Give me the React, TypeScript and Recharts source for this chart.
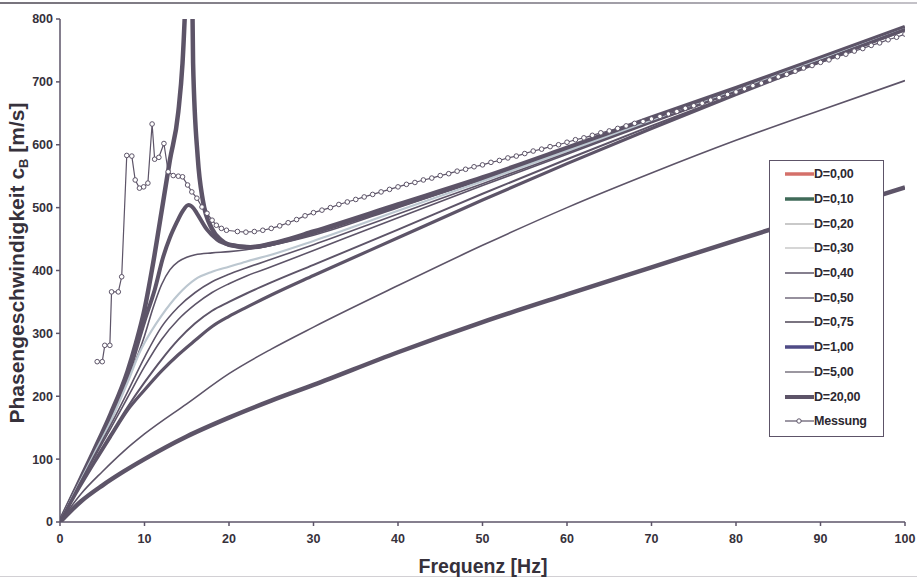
import { LineChart, Line, XAxis, YAxis, Legend } from 'recharts'

type Pt = [number, number | null]

// Frequenz [Hz] / Phasengeschwindigkeit [m/s] je Dämpfungsgrad D
const D000: Pt[] = [[0, 0], [2, 56], [4, 113], [6, 172], [8, 240], [9, 285], [10, 338], [11, 410], [12, 492], [13, 575], [14, 652], [14.5, 730], [15, 880], [15.3, null], [15.6, 900], [15.75, 730], [16.3, 580], [16.9, 512], [18, 466], [19, 449], [20, 441], [22.5, 437], [26, 446], [30, 462], [40, 505], [50, 548], [60, 595], [70, 643], [80, 690], [90, 738], [100, 787]]
const D010: Pt[] = [[0, 0], [2, 55], [4, 110], [6, 166], [8, 232], [10, 320], [11.2, 369], [12.2, 421], [13, 452], [13.8, 476], [14.5, 494], [15.2, 504], [15.8, 499], [16.2, 491], [17.4, 465], [18.6, 449], [20, 441], [22.5, 437], [26, 445], [30, 460], [40, 503], [50, 546], [60, 593], [70, 641], [80, 689], [90, 737], [100, 786]]
const D020: Pt[] = [[0, 0], [2, 55], [4, 109], [6, 163], [8, 225], [10, 296], [11, 340], [12, 377], [13, 401], [14, 414], [15, 421], [16, 425], [18, 428], [20, 430], [22, 433], [25, 440], [30, 456], [40, 500], [50, 545], [60, 592], [70, 640], [80, 688], [90, 736], [100, 785]]
const D030: Pt[] = [[0, 0], [2, 54], [4, 107], [6, 160], [8, 222], [9.5, 272], [10, 285], [12, 328], [14, 362], [16, 386], [18, 398], [20, 406], [22, 414], [25, 425], [30, 447], [40, 495], [50, 542], [60, 590], [70, 638], [80, 686], [90, 735], [100, 784]]
const D040: Pt[] = [[0, 0], [2, 53], [4, 104], [6, 154], [8, 207], [10, 262], [12, 310], [14, 342], [16, 365], [18, 382], [20, 394], [22, 404], [25, 418], [30, 441], [40, 490], [50, 538], [60, 587], [70, 636], [80, 685], [90, 734], [100, 784]]
const D050: Pt[] = [[0, 0], [2, 52], [4, 101], [6, 149], [8, 198], [10, 247], [12, 290], [14, 322], [16, 346], [18, 365], [20, 379], [22, 391], [25, 406], [30, 432], [40, 484], [50, 535], [60, 585], [70, 635], [80, 684], [90, 733], [100, 783]]
const D075: Pt[] = [[0, 0], [2, 50], [4, 96], [6, 140], [8, 183], [10, 222], [12, 258], [14, 290], [16, 316], [18, 336], [20, 350], [22, 363], [25, 381], [30, 409], [40, 465], [50, 522], [60, 577], [70, 630], [80, 681], [90, 732], [100, 782]]
const D100: Pt[] = [[0, 0], [2, 48], [4, 93], [6, 136], [8, 178], [10, 210], [12, 240], [14, 266], [16, 289], [18, 311], [20, 327], [22, 341], [25, 361], [30, 392], [40, 452], [50, 512], [60, 570], [70, 626], [80, 680], [90, 732], [100, 783]]
const D500: Pt[] = [[0, 0], [2.5, 45], [5, 80], [7.5, 112], [10, 140], [15, 188], [20, 236], [25, 275], [30, 310], [40, 376], [50, 440], [60, 500], [70, 555], [80, 607], [90, 655], [100, 702]]
const D2000: Pt[] = [[0, 0], [2.5, 33], [5, 58], [7.5, 80], [10, 100], [15, 136], [20, 166], [25, 193], [30, 218], [40, 270], [50, 318], [60, 362], [70, 405], [80, 448], [90, 490], [100, 532]]

// Messwerte
const messungFreq = [
  4.4, 5.0, 5.3, 5.9, 6.1, 6.9, 7.3, 7.9, 8.5, 8.9, 9.4, 9.9, 10.4, 10.9, 11.2, 11.7, 12.3, 12.8, 13.4, 14.0,
  14.5, 15.1, 15.6, 16.2, 16.8, 17.4, 18.0, 18.5, 19.1, 19.7, 21, 22, 23, 24, 25, 26, 27, 28, 29, 30,
  31, 32, 33, 34, 35, 36, 37, 38, 39, 40, 41, 42, 43, 44, 45, 46, 47, 48, 49, 50,
  51, 52, 53, 54, 55, 56, 57, 58, 59, 60, 61, 62, 63, 64, 65, 66, 67, 68, 69, 70,
  71, 72, 73, 74, 75, 76, 77, 78, 79, 80, 81, 82, 83, 84, 85, 86, 87, 88, 89, 90,
  91, 92, 93, 94, 95, 96, 97, 98, 99, 100,
]
const messungWert = [
  255, 255, 281, 281, 366, 366, 390, 583, 582, 544, 531, 533, 539, 633, 577, 580, 602, 557, 551, 550,
  549, 536, 525, 515, 501, 491, 480, 472, 467, 464, 462, 461, 462, 464, 467, 471, 476, 481, 487, 492,
  496, 500, 505, 509, 513, 517, 521, 525, 529, 533, 537, 540, 544, 547, 551, 554, 558, 561, 565, 568,
  572, 575, 579, 582, 586, 590, 593, 597, 600, 604, 608, 611, 615, 619, 622, 626, 630, 634, 637, 641,
  645, 649, 653, 658, 662, 666, 671, 675, 680, 684, 689, 694, 698, 703, 708, 712, 717, 722, 726, 731,
  735, 740, 744, 749, 753, 758, 762, 767, 771, 776,
]

const xTicks = [0, 10, 20, 30, 40, 50, 60, 70, 80, 90, 100]
const yTicks = [0, 100, 200, 300, 400, 500, 600, 700, 800]

const INK = '#5d5468'
const TEXT = '#36313b'
const FONT = '"Liberation Sans", Arial, sans-serif'

const toRows = (pts: Pt[]) => pts.map(([f, v]) => ({ f, v }))

const curves = [
  { name: 'D=0,00', pts: D000, stroke: INK, width: 4.5, swatch: '#d4706a', swatchW: 3.5 },
  { name: 'D=0,10', pts: D010, stroke: INK, width: 4, swatch: '#3f6a58', swatchW: 3.5 },
  { name: 'D=0,20', pts: D020, stroke: INK, width: 1.6, swatch: '#c9c9c9', swatchW: 2 },
  { name: 'D=0,30', pts: D030, stroke: '#bcc7d0', width: 2.2, swatch: '#d6d6d6', swatchW: 2 },
  { name: 'D=0,40', pts: D040, stroke: INK, width: 1.6, swatch: INK, swatchW: 1.5 },
  { name: 'D=0,50', pts: D050, stroke: INK, width: 1.6, swatch: INK, swatchW: 1.3 },
  { name: 'D=0,75', pts: D075, stroke: INK, width: 2, swatch: '#7a7480', swatchW: 2 },
  { name: 'D=1,00', pts: D100, stroke: INK, width: 3.2, swatch: '#4f4b86', swatchW: 3.5 },
  { name: 'D=5,00', pts: D500, stroke: INK, width: 1.6, swatch: '#9b97a0', swatchW: 2 },
  { name: 'D=20,00', pts: D2000, stroke: INK, width: 4.5, swatch: INK, swatchW: 4 },
]

const messung = messungFreq.map((f, i) => ({ f, v: messungWert[i] }))

function YLabel() {
  return (
    <text
      x={24}
      y={263}
      transform="rotate(-90 24 263)"
      textAnchor="middle"
      fontFamily={FONT}
      fontWeight={700}
      fontSize={21}
      fill={TEXT}
    >
      Phasengeschwindigkeit c
      <tspan fontSize={13} dy={4}>B</tspan>
      <tspan dy={-4}> [m/s]</tspan>
    </text>
  )
}

function XLabel() {
  return (
    <text x={483} y={573} textAnchor="middle" fontFamily={FONT} fontWeight={700} fontSize={19.5} fill={TEXT}>
      Frequenz [Hz]
    </text>
  )
}

const legendText = { fontSize: 12.5, fontWeight: 700, color: '#2c2830', letterSpacing: -0.2 }

function LegendBox() {
  return (
    <div
      style={{
        width: 115,
        height: 277,
        boxSizing: 'border-box',
        border: `1.5px solid ${INK}`,
        background: '#fff',
        paddingTop: 1,
        fontFamily: FONT,
      }}
    >
      {curves.map((c) => (
        <div key={c.name} style={{ display: 'flex', alignItems: 'center', height: 24.7 }}>
          <svg width={44} height={10} style={{ flex: 'none' }}>
            <line x1={15} x2={44} y1={5} y2={5} stroke={c.swatch} strokeWidth={c.swatchW} />
          </svg>
          <span style={legendText}>{c.name}</span>
        </div>
      ))}
      <div style={{ display: 'flex', alignItems: 'center', height: 24.7 }}>
        <svg width={44} height={10} style={{ flex: 'none' }}>
          <line x1={15} x2={44} y1={5} y2={5} stroke={INK} strokeWidth={1.2} />
          <circle cx={29} cy={5} r={2.2} fill="#fff" stroke={INK} strokeWidth={1} />
        </svg>
        <span style={legendText}>Messung</span>
      </div>
    </div>
  )
}

export default function App() {
  return (
    <div style={{ position: 'absolute', left: 0, top: 0, width: 917, height: 579, background: '#fff', overflow: 'hidden' }}>
      <div style={{ position: 'absolute', left: 0, top: 2, width: 917, height: 2, background: 'linear-gradient(90deg, #77737c, #9a97a0 60%, #c4c2c8)' }} />
      <div style={{ position: 'absolute', left: 0, top: 576, width: 917, height: 1, background: '#d2d0d4' }} />
      <LineChart width={917} height={579} margin={{ top: 19, right: 12, left: 0, bottom: 0 }}>
        <XAxis
          dataKey="f"
          type="number"
          domain={[0, 100]}
          ticks={xTicks}
          allowDataOverflow
          height={57}
          stroke={INK}
          strokeWidth={1.5}
          tickSize={4}
          tickMargin={8}
          tick={{ fill: TEXT, fontSize: 12.5, fontWeight: 700, fontFamily: FONT }}
          label={<XLabel />}
        />
        <YAxis
          dataKey="v"
          type="number"
          domain={[0, 800]}
          ticks={yTicks}
          allowDataOverflow
          width={60}
          stroke={INK}
          strokeWidth={1.5}
          tickSize={4}
          tickMargin={3}
          tick={{ fill: TEXT, fontSize: 12.5, fontWeight: 700, fontFamily: FONT }}
          label={<YLabel />}
        />
        <Legend
          layout="horizontal"
          verticalAlign="middle"
          align="center"
          content={() => <LegendBox />}
          wrapperStyle={{ left: 769, top: 160, width: 115, height: 277 }}
        />
        {curves.map((c) => (
          <Line
            key={c.name}
            data={toRows(c.pts)}
            dataKey="v"
            name={c.name}
            type="monotone"
            stroke={c.stroke}
            strokeWidth={c.width}
            dot={false}
            activeDot={false}
            connectNulls={false}
            isAnimationActive={false}
          />
        ))}
        <Line
          data={messung}
          dataKey="v"
          name="Messung"
          type="linear"
          stroke={INK}
          strokeWidth={1.2}
          dot={{ r: 2.3, fill: '#fff', stroke: INK, strokeWidth: 1 }}
          activeDot={false}
          isAnimationActive={false}
        />
      </LineChart>
    </div>
  )
}
